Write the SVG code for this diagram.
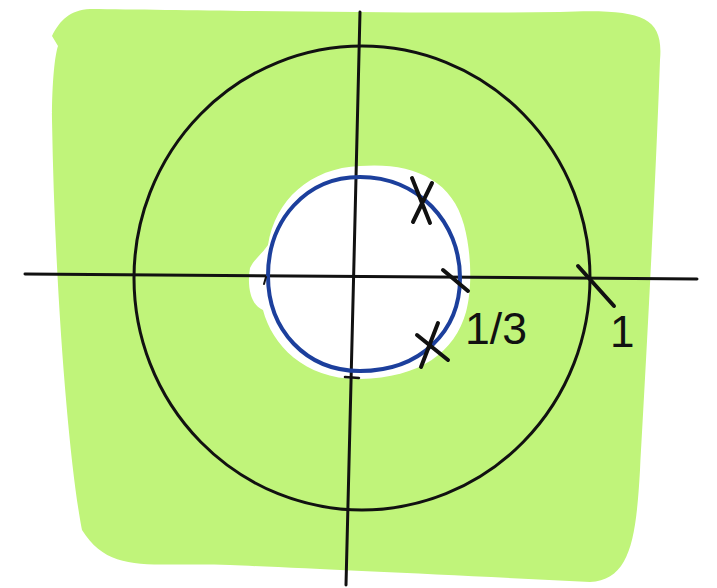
<svg xmlns="http://www.w3.org/2000/svg" width="717" height="588" viewBox="0 0 717 588">
<style>
.ink{fill:none;stroke:#111;stroke-linecap:round;stroke-linejoin:round}
.lbl{font-family:"Liberation Sans",Arial,sans-serif;fill:#111}
</style>
<rect width="717" height="588" fill="#fff"/>
<g id="region">
<path d="M90,9 C200,10 400,14 560,12 C640,9 664,15 660,60 C655,200 645,380 640,470 C636,540 630,580 590,582 C450,575 300,568 230,565 C150,562 110,575 82,530 C70,470 55,300 52,120 C52,80 55,55 58,46 L52,36 C60,20 70,10 90,9 Z" fill="#c0f47a"/>
<path d="M268,245 C275,200 310,168 360,166 C410,162 452,178 464,225 C472,255 472,290 466,312 C455,352 420,378 360,379 C305,380 272,345 263,310 C250,305 247,285 250,268 C255,258 262,254 268,245 Z" fill="#fff"/>
</g>
<g id="axes">
<path class="ink" d="M25,274 L697,279" stroke-width="3"/>
<path class="ink" d="M360,12 C356,200 350,400 346,585" stroke-width="3"/>
</g>
<g id="unit-circle">
<ellipse class="ink" cx="362" cy="278" rx="228" ry="232" stroke-width="3"/>
</g>
<g id="small-circle">
<path d="M268,276 C268,220 306,177 360,177 C418,177 460,222 460,278 C460,332 420,371 360,371 C306,371 268,330 268,276 Z" fill="none" stroke="#1c3f9c" stroke-width="4"/>
</g>
<g id="marks">
<path class="ink" d="M412,178 L430,223 M432,183 L413,222" stroke-width="4"/>
<path class="ink" d="M417,335 L448,360 M438,323 L421,367" stroke-width="4"/>
<path class="ink" d="M443,270 L468,291" stroke-width="4"/>
<path class="ink" d="M578,266 L614,306" stroke-width="4"/>
<path class="ink" d="M264,284 L266,277" stroke-width="2"/>
<path class="ink" d="M345,377 L359,378" stroke-width="2.5"/>
</g>
<g id="labels">
<text class="lbl" x="465" y="344" font-size="44" textLength="62" lengthAdjust="spacingAndGlyphs">1/3</text>
<text class="lbl" x="610" y="347" font-size="44">1</text>
</g>
</svg>
